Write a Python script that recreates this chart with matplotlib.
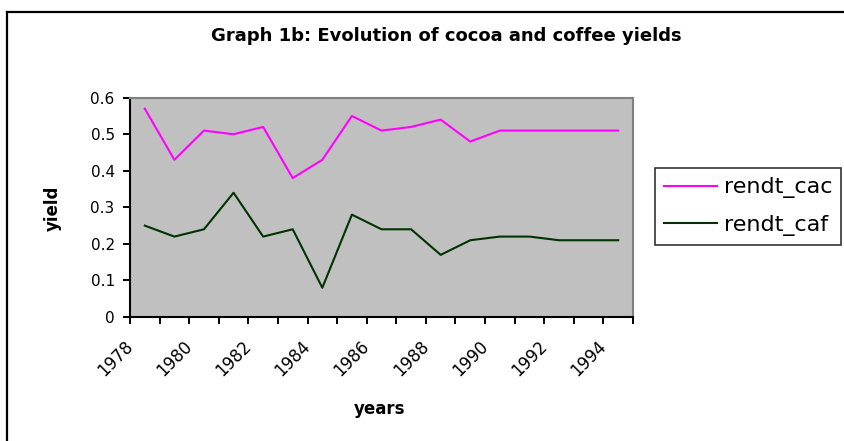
import matplotlib
matplotlib.use("Agg")
import matplotlib.pyplot as plt
import matplotlib.transforms as mtransforms
from matplotlib.lines import Line2D
import numpy as np

years = list(range(1978, 1995))
rendt_cac = [0.57, 0.43, 0.51, 0.50, 0.52, 0.38, 0.43, 0.55, 0.51, 0.52,
             0.54, 0.48, 0.51, 0.51, 0.51, 0.51, 0.51]
rendt_caf = [0.25, 0.22, 0.24, 0.34, 0.22, 0.24, 0.08, 0.28, 0.24, 0.24,
             0.17, 0.21, 0.22, 0.22, 0.21, 0.21, 0.21]
series_names = ["rendt_cac", "rendt_caf"]
yticks = [0, 0.1, 0.2, 0.3, 0.4, 0.5, 0.6]
ytick_labels = ["0", "0.1", "0.2", "0.3", "0.4", "0.5", "0.6"]
title = "Graph 1b: Evolution of cocoa and coffee yields"
xlabel = "years"
ylabel = "yield"

plt.rcParams['font.family'] = ['DejaVu Sans']

W, H = 845, 441
fig = plt.figure(figsize=(W / 100, H / 100), dpi=100)
fig.patch.set_facecolor("white")

# outer chart border (left and top visible)
fig.add_artist(Line2D([7 / W, 7 / W], [0, 1 - 12 / H], transform=fig.transFigure,
                      color="black", lw=1.6))
fig.add_artist(Line2D([7 / W, 1], [1 - 12 / H, 1 - 12 / H], transform=fig.transFigure,
                      color="black", lw=1.6))

ax = fig.add_axes([130 / W, 1 - 317 / H, (633 - 130) / W, (317 - 97.7) / H])
ax.set_facecolor("#C0C0C0")

l1, = ax.plot(years, rendt_cac, color="#FF00FF", lw=1.5, label=series_names[0])
l2, = ax.plot(years, rendt_caf, color="#003300", lw=1.5, label=series_names[1])

ax.set_xlim(years[0] - 0.5, years[-1] + 0.5)
ax.set_ylim(0, 0.6)
ax.set_yticks(yticks)
ax.set_yticklabels(ytick_labels, fontsize=11)

bounds = np.arange(years[0] - 0.5, years[-1] + 1, 1.0)
labels = []
for b in bounds:
    y = int(round(b + 0.5))
    if y in years and (y - years[0]) % 2 == 0:
        labels.append(str(y))
    else:
        labels.append("")
ax.set_xticks(bounds)
ax.set_xticklabels(labels, fontsize=12, rotation=45, ha="right", va="center",
                   rotation_mode="anchor")
offset = mtransforms.ScaledTranslation(-6 / 100, 0, fig.dpi_scale_trans)
for lab in ax.xaxis.get_majorticklabels():
    lab.set_transform(lab.get_transform() + offset)

ax.tick_params(axis="x", direction="out", length=5, width=1.4, pad=14, colors="black")
ax.tick_params(axis="y", direction="out", length=5, width=1.4, pad=6, colors="black")

for s in ["left", "bottom"]:
    ax.spines[s].set_color("black")
    ax.spines[s].set_linewidth(1.5)
for s in ["top", "right"]:
    ax.spines[s].set_color("#808080")
    ax.spines[s].set_linewidth(1.5)

fig.text(446 / W, 1 - 36 / H, title, fontsize=13, fontweight="bold",
         ha="center", va="center")
fig.text(380 / W, 1 - 409 / H, xlabel, fontsize=12, fontweight="bold",
         ha="center", va="center")
fig.text(53 / W, 1 - 208 / H, ylabel, fontsize=12, fontweight="bold",
         ha="center", va="center", rotation=90)

leg = fig.legend(handles=[l1, l2], loc="upper left",
                 bbox_to_anchor=(655 / W, 1 - 168 / H),
                 fontsize=16, frameon=True, fancybox=False, shadow=False,
                 edgecolor="black", handlelength=2.35, handletextpad=0.32,
                 labelspacing=0.75, borderpad=0.42, borderaxespad=0)
leg.get_frame().set_linewidth(1.2)
leg.get_frame().set_facecolor("white")

fig.savefig("out.png", dpi=100)
